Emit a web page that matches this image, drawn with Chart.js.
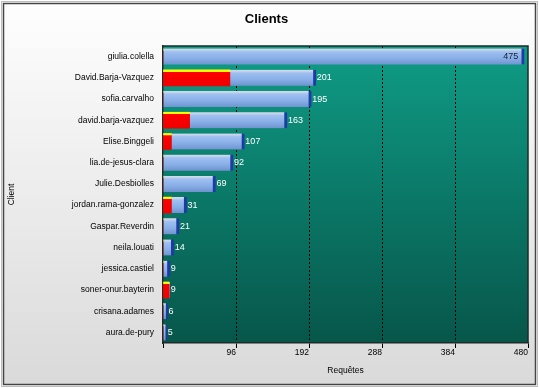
<!DOCTYPE html>
<html>
<head>
<meta charset="utf-8">
<script src="https://cdn.jsdelivr.net/npm/chart.js@4/dist/chart.umd.min.js"></script>
<style>
html, body { margin: 0; padding: 0; background: #fff; }
#wrap { width: 539px; height: 388px; }
</style>
</head>
<body>
<div id="wrap"><canvas id="clientsChart" width="539" height="388"></canvas></div>
<script>
var clients = ["giulia.colella", "David.Barja-Vazquez", "sofia.carvalho", "david.barja-vazquez",
    "Elise.Binggeli", "lia.de-jesus-clara", "Julie.Desbiolles", "jordan.rama-gonzalez",
    "Gaspar.Reverdin", "neila.louati", "jessica.castiel", "soner-onur.bayterin",
    "crisana.adames", "aura.de-pury"];
var totals = [475, 201, 195, 163, 107, 92, 69, 31, 21, 14, 9, 9, 6, 5];
var redPart = [0, 88, 0, 35, 11, 0, 0, 11, 0, 0, 0, 8, 0, 0];
var bluePart = [475, 113, 195, 128, 96, 92, 69, 20, 21, 14, 9, 1, 6, 5];
var xTicks = [0, 96, 192, 288, 384, 480];

var FONT = "'Liberation Sans', Arial, sans-serif";
var BAR_H = 16;

// vertical gradient for one bar, built from the category scale
function barFill(ctx, stops, fallback) {
    var chart = ctx.chart;
    var yScale = chart.scales.y;
    if (ctx.type !== "data" || !yScale || yScale.top === undefined) {
        return fallback;
    }
    var c = yScale.getPixelForValue(ctx.dataIndex);
    var g = chart.ctx.createLinearGradient(0, c - BAR_H / 2, 0, c + BAR_H / 2);
    for (var i = 0; i < stops.length; i++) {
        g.addColorStop(stops[i][0], stops[i][1]);
    }
    return g;
}

var backdrop = {
    id: "backdrop",
    beforeDraw: function (chart) {
        var ctx = chart.ctx, a = chart.chartArea;
        ctx.save();
        ctx.fillStyle = "#fff";
        ctx.fillRect(0, 0, chart.width, chart.height);
        var bg = ctx.createLinearGradient(0, 4, 0, 384);
        bg.addColorStop(0, "#fefefe");
        bg.addColorStop(1, "#dadada");
        ctx.fillStyle = bg;
        ctx.fillRect(4, 4, 531, 380);
        ctx.strokeStyle = "#bdbdbd";
        ctx.lineWidth = 1;
        ctx.strokeRect(1.5, 1.5, 536, 385);
        ctx.strokeStyle = "#444";
        ctx.lineWidth = 1.5;
        ctx.strokeRect(3.5, 3.5, 532, 381);

        var pg = ctx.createLinearGradient(0, a.top, 0, a.bottom);
        pg.addColorStop(0, "#0f9c86");
        pg.addColorStop(1, "#07564a");
        ctx.fillStyle = pg;
        ctx.fillRect(a.left, a.top, a.right - a.left, a.bottom - a.top);
        ctx.restore();
    },
    afterDraw: function (chart) {
        var ctx = chart.ctx, a = chart.chartArea;
        ctx.save();
        ctx.strokeStyle = "#1d2b29";
        ctx.lineWidth = 1.5;
        ctx.beginPath();
        ctx.moveTo(a.left, a.top);
        ctx.lineTo(a.right, a.top);
        ctx.lineTo(a.right, a.bottom);
        ctx.stroke();
        ctx.restore();
    }
};

var valueLabels = {
    id: "valueLabels",
    afterDatasetsDraw: function (chart) {
        var ctx = chart.ctx, a = chart.chartArea;
        var meta = chart.getDatasetMeta(1);
        ctx.save();
        ctx.font = "9px " + FONT;
        ctx.textBaseline = "middle";
        meta.data.forEach(function (bar, i) {
            var txt = String(totals[i]);
            var w = ctx.measureText(txt).width;
            if (bar.x + w + 3 > a.right) {
                ctx.fillStyle = "#16202e";
                ctx.textAlign = "right";
                ctx.fillText(txt, bar.x - 6, bar.y);
            } else {
                ctx.fillStyle = "#fff";
                ctx.textAlign = "left";
                ctx.fillText(txt, bar.x + 1, bar.y);
            }
        });
        ctx.restore();
    }
};

new Chart(document.getElementById("clientsChart"), {
    type: "bar",
    data: {
        labels: clients,
        datasets: [{
            label: "rouge",
            data: redPart,
            barThickness: BAR_H,
            borderWidth: 0,
            backgroundColor: function (ctx) {
                return barFill(ctx, [[0, "#ffff00"], [0.12, "#ffff00"], [0.13, "#ff0000"], [1, "#f00000"]], "#ff0000");
            }
        }, {
            label: "bleu",
            data: bluePart,
            barThickness: BAR_H,
            borderWidth: {top: 0, right: 3, bottom: 0, left: 0},
            borderColor: "#1d3aa6",
            borderSkipped: false,
            backgroundColor: function (ctx) {
                return barFill(ctx, [[0, "#d6dde8"], [0.1, "#c1d2ec"], [0.2, "#9fc0f0"], [0.6, "#89afe8"], [1, "#6f93cf"]], "#8cb2ea");
            }
        }]
    },
    options: {
        indexAxis: "y",
        responsive: false,
        animation: false,
        events: [],
        devicePixelRatio: 1,
        layout: {padding: {left: 5, right: 11, top: 0, bottom: 5}},
        plugins: {
            legend: {display: false},
            tooltip: {enabled: false},
            title: {
                display: true,
                text: "Clients",
                color: "#000",
                font: {family: FONT, size: 13, weight: "bold"},
                padding: {top: 12, bottom: 18.4}
            }
        },
        scales: {
            x: {
                stacked: true,
                min: 0,
                max: 480,
                afterBuildTicks: function (scale) {
                    scale.ticks = xTicks.map(function (v) { return {value: v}; });
                },
                afterFit: function (scale) { scale.height = 40; },
                ticks: {
                    color: "#000",
                    font: {family: FONT, size: 8.5},
                    padding: 0,
                    align: "end",
                    maxRotation: 0,
                    callback: function (v) { return v === 0 ? "" : v; }
                },
                grid: {
                    color: function (ctx) {
                        var v = ctx.tick ? ctx.tick.value : 0;
                        return (v === 0 || v === 480) ? "rgba(0,0,0,0)" : "#000";
                    },
                    tickColor: "#000",
                    tickLength: 5,
                    lineWidth: 1
                },
                border: {display: true, color: "#1d2b29", width: 1.5, dash: [2, 2]},
                title: {
                    display: true,
                    text: "Requêtes",
                    color: "#000",
                    font: {family: FONT, size: 8.5},
                    padding: {top: 0, bottom: 7.6}
                }
            },
            y: {
                stacked: true,
                afterFit: function (scale) { scale.width = 158; },
                ticks: {
                    color: "#000",
                    font: {family: FONT, size: 8.5},
                    padding: 9
                },
                grid: {display: false, drawTicks: false},
                border: {display: true, color: "#1d2b29", width: 1.5},
                title: {
                    display: true,
                    text: "Client",
                    color: "#000",
                    font: {family: FONT, size: 8.5},
                    padding: {top: 1.6, bottom: 0}
                }
            }
        }
    },
    plugins: [backdrop, valueLabels]
});
</script>
</body>
</html>
